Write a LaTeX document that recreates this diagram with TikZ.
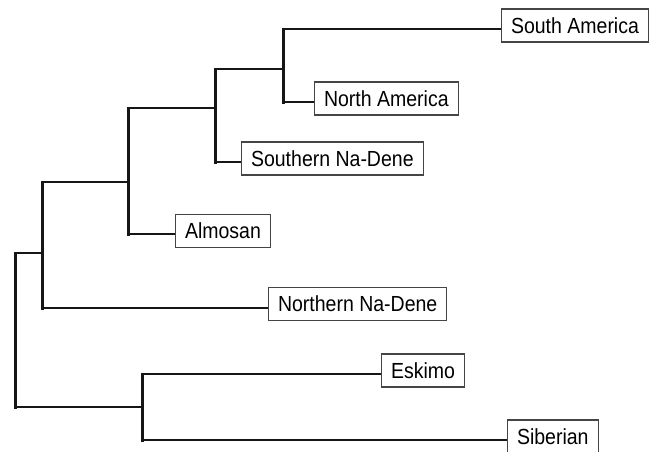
\documentclass[tikz,border=0pt]{standalone}
\usepackage{fontspec}
\usepackage{graphicx}
\setmainfont{Liberation Sans}
\definecolor{branchcol}{HTML}{161616}
\definecolor{framecol}{HTML}{454545}
\newcommand{\taxname}[1]{\scalebox{1}[1.12]{#1}}
\tikzset{
  taxon/.style={draw=framecol, line width=1.1pt, anchor=west, inner xsep=9.5pt, inner ysep=0pt, minimum height=33pt, text height=15.6pt, text depth=0pt, font=\fontsize{19.5}{23}\selectfont, text=black},
  hbranch/.style={draw=branchcol, line width=2pt},
  vbranch/.style={draw=branchcol, line width=3pt, line cap=rect}
}

\begin{document}
\begin{tikzpicture}[x=1pt, y=-1pt]
\useasboundingbox (0,0) rectangle (653,451);
% leaves
\node[taxon] (sam) at (501,25.5) {\taxname{South America}};
\node[taxon] (nam) at (314,98.5) {\taxname{North America}};
\node[taxon] (snd) at (241,158.5) {\taxname{Southern Na-Dene}};
\node[taxon] (alm) at (175,231) {\taxname{Almosan}};
\node[taxon] (nnd) at (268,304) {\taxname{Northern Na-Dene}};
\node[taxon] (esk) at (381,370.5) {\taxname{Eskimo}};
\node[taxon] (sib) at (507,436.5) {\taxname{Siberian}};
% internal nodes, top and bottom of each vertical
\coordinate (rt) at (15,253);  \coordinate (rb) at (15,407);
\coordinate (at) at (42,182);  \coordinate (ab) at (42,308);
\coordinate (bt) at (128,108); \coordinate (bb) at (128,234);
\coordinate (ct) at (215,69);  \coordinate (cb) at (215,162);
\coordinate (dt) at (283,29);  \coordinate (db) at (283,102);
\coordinate (et) at (142,374); \coordinate (eb) at (142,440);
% verticals
\draw[vbranch] (rt) -- (rb);
\draw[vbranch] (at) -- (ab);
\draw[vbranch] (bt) -- (bb);
\draw[vbranch] (ct) -- (cb);
\draw[vbranch] (dt) -- (db);
\draw[vbranch] (et) -- (eb);
% horizontals
\draw[hbranch] (rt) -- (at |- rt);
\draw[hbranch] (rb) -- (et |- rb);
\draw[hbranch] (at) -- (bt |- at);
\draw[hbranch] (bt) -- (ct |- bt);
\draw[hbranch] (ct) -- (dt |- ct);
\draw[hbranch] (dt) -- (dt -| sam.west);
\draw[hbranch] (db) -- (db -| nam.west);
\draw[hbranch] (cb) -- (cb -| snd.west);
\draw[hbranch] (bb) -- (bb -| alm.west);
\draw[hbranch] (ab) -- (ab -| nnd.west);
\draw[hbranch] (et) -- (et -| esk.west);
\draw[hbranch] (eb) -- (eb -| sib.west);
\end{tikzpicture}
\end{document}
